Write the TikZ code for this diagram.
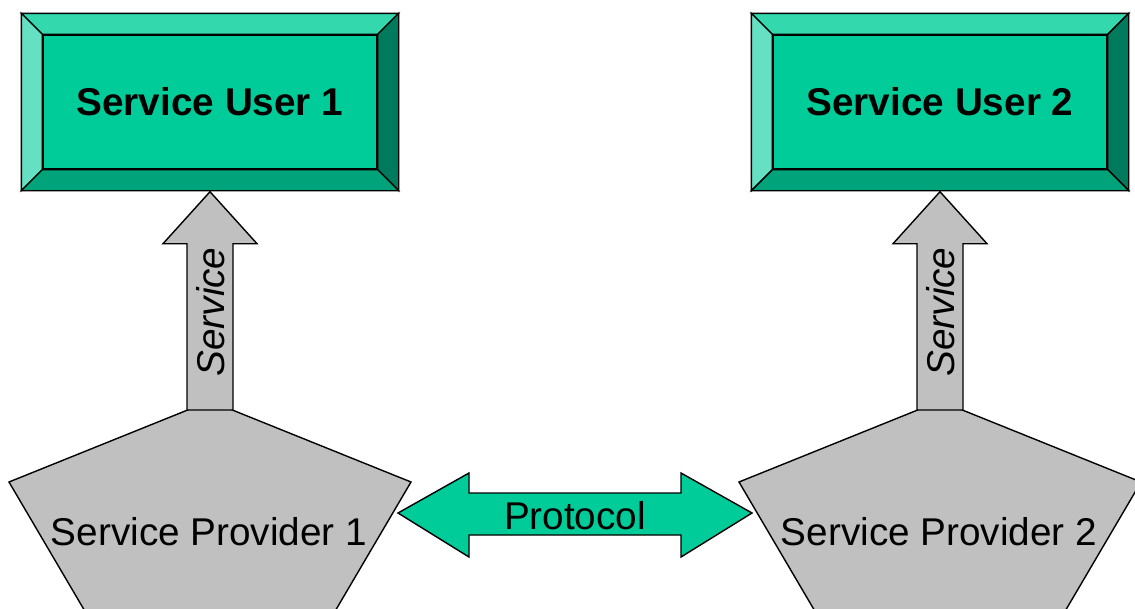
\documentclass[tikz,border=0pt]{standalone}
\usepackage{fontspec}
\setmainfont{Liberation Sans}
\usetikzlibrary{calc}
\definecolor{tealmain}{HTML}{00CC99}
\definecolor{tealtop}{HTML}{33D9AD}
\definecolor{tealleft}{HTML}{66E0C2}
\definecolor{tealright}{HTML}{007A5C}
\definecolor{tealbottom}{HTML}{00A37A}
\definecolor{provgray}{HTML}{C0C0C0}
\tikzset{
  outl/.style={draw=black, line width=1.4pt, line join=miter},
  userbox/.style={outl, fill=tealmain, minimum width=334pt, minimum height=134pt, inner sep=0pt,
    font=\fontsize{38.7}{46}\selectfont\bfseries},
  provtext/.style={inner sep=0pt, font=\fontsize{38.7}{46}\selectfont},
  grayfill/.style={outl, fill=provgray},
  protofill/.style={outl, fill=tealmain},
  svclabel/.style={rotate=90, inner sep=0pt, font=\fontsize{38.7}{46}\selectfont\itshape},
}
\begin{document}
\begin{tikzpicture}[x=1pt,y=-1pt]
\useasboundingbox (0,0) rectangle (1135,608);
\clip (0,0) rectangle (1135,608);

% Service provider pentagons
\foreach \cx in {210, 940}{
  \draw[grayfill] (\cx,401) -- (\cx+201,482) -- (\cx+124,613) -- (\cx-124,613) -- (\cx-201,482) -- cycle;
}
\node[provtext] (p1) at (209,532) {Service Provider 1};
\node[provtext] (p2) at (939,532) {Service Provider 2};
\coordinate (p1top) at (210,410);
\coordinate (p2top) at (940,410);
\coordinate (p1right) at (398,513);
\coordinate (p2left) at (752,513);

% Service user beveled boxes
\node[userbox] (u1) at (210,102) {Service User 1};
\node[userbox] (u2) at (940,102) {Service User 2};
\foreach \u in {u1,u2}{
  \coordinate (\u ONW) at ($(\u.north west)+(-21,-21)$);
  \coordinate (\u ONE) at ($(\u.north east)+(21,-21)$);
  \coordinate (\u OSW) at ($(\u.south west)+(-21,21)$);
  \coordinate (\u OSE) at ($(\u.south east)+(21,21)$);
  \coordinate (\u bot) at ($(\u.south)+(0,22)$);
  \draw[outl, fill=tealtop] (\u ONW) -- (\u ONE) -- (\u.north east) -- (\u.north west) -- cycle;
  \draw[outl, fill=tealleft] (\u ONW) -- (\u.north west) -- (\u.south west) -- (\u OSW) -- cycle;
  \draw[outl, fill=tealright] (\u ONE) -- (\u OSE) -- (\u.south east) -- (\u.north east) -- cycle;
  \draw[outl, fill=tealbottom] (\u OSW) -- (\u.south west) -- (\u.south east) -- (\u OSE) -- cycle;
}

% Service block arrows
\foreach \b/\t in {p1top/u1bot, p2top/u2bot}{
  \draw[grayfill] ($(\b)+(-23,0)$) -- ($(\t)+(-23,52)$) -- ($(\t)+(-47,52)$) -- (\t)
    -- ($(\t)+(47,52)$) -- ($(\t)+(23,52)$) -- ($(\b)+(23,0)$) -- cycle;
}
\node[svclabel] (s1) at (211,312) {Service};
\node[svclabel] (s2) at (941,312) {Service};

% Protocol double arrow
\draw[protofill] (p1right) -- ($(p1right)+(71,-40)$) -- ($(p1right)+(71,-20)$)
  -- ($(p2left)+(-71,-20)$) -- ($(p2left)+(-71,-40)$) -- (p2left)
  -- ($(p2left)+(-71,44)$) -- ($(p2left)+(-71,22)$)
  -- ($(p1right)+(71,22)$) -- ($(p1right)+(71,44)$) -- cycle;
\node[provtext] (proto) at (575,516) {Protocol};
\end{tikzpicture}
\end{document}
